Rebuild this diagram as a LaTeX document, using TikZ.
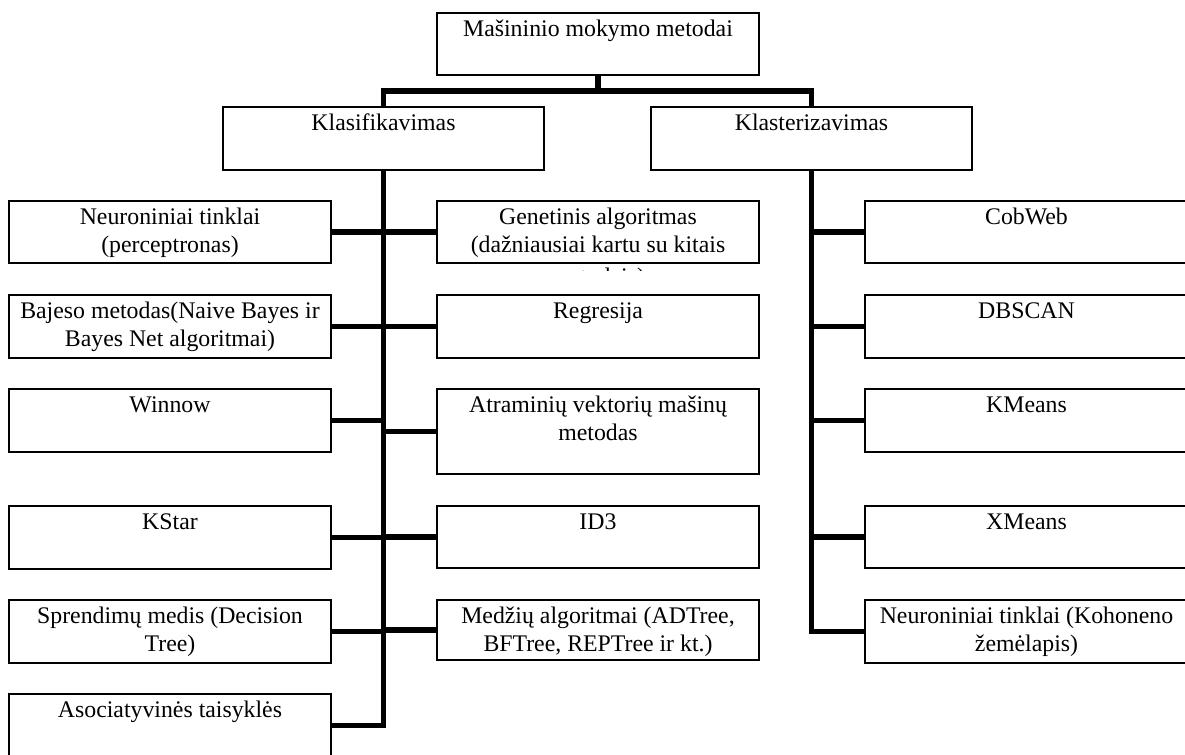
\documentclass[tikz,border=0pt]{standalone}
\usepackage{fontspec}
\setmainfont{Liberation Serif}

% Box text: fixed-size cell, lines centred and hung from the top edge
\newcommand\celltext[3]{\parbox[c][#2][t]{#1}{\centering\rule{0pt}{11.5pt}#3}}

\tikzset{
  box/.style={draw=black, line width=1pt, inner sep=0pt, fill=white,
              font=\fontsize{11.9pt}{14.25pt}\selectfont},
  link/.style={draw=black, line width=2.6pt, line join=miter, line cap=butt},
}

\begin{document}
\begin{tikzpicture}[x=0.5pt, y=-0.5pt]
\useasboundingbox (0,0) rectangle (1185,755);
\clip (0,0) rectangle (1185,755);

% root and the two main groups
\node[box] (T)  at (598,44)    {\celltext{161pt}{31pt}{Mašininio mokymo metodai}};
\node[box] (K1) at (383.5,138.5) {\celltext{160.5pt}{31.5pt}{Klasifikavimas}};
\node[box] (K2) at (811.5,138.5) {\celltext{160.5pt}{31.5pt}{Klasterizavimas}};

% classification methods, left column
\node[box] (L1) at (170,232)   {\celltext{161pt}{31pt}{Neuroniniai tinklai\\(perceptronas)}};
\node[box] (L2) at (170,326.5) {\celltext{161pt}{31.5pt}{Bajeso metodas(Naive Bayes ir\\Bayes Net algoritmai)}};
\node[box] (L3) at (170,420.5) {\celltext{161pt}{31.5pt}{Winnow}};
\node[box] (L4) at (170,537.5) {\celltext{161pt}{31.5pt}{KStar}};
\node[box] (L5) at (170,631.5) {\celltext{161pt}{31.5pt}{Sprendimų medis (Decision\\Tree)}};
\node[box] (L6) at (170,725.5) {\celltext{161pt}{31.5pt}{Asociatyvinės taisyklės}};

% classification methods, middle column
\node[box] (M1) at (598,232)   {\celltext{161pt}{31pt}{Genetinis algoritmas\\(dažniausiai kartu su kitais}};
\node[box] (M2) at (598,326.5) {\celltext{161pt}{31.5pt}{Regresija}};
\node[box] (M3) at (598,431.5) {\celltext{161pt}{42.5pt}{Atraminių vektorių mašinų\\metodas}};
\node[box] (M4) at (598,537)   {\celltext{161pt}{31pt}{ID3}};
\node[box] (M5) at (598,630)   {\celltext{161pt}{30pt}{Medžių algoritmai (ADTree,\\BFTree, REPTree ir kt.)}};

% overflowing last line of the genetic algorithm box, cut off below the frame
\begin{scope}
  \clip (437,263) rectangle (759,270);
  \node[anchor=base, inner sep=0pt, font=\fontsize{11.9pt}{14.25pt}\selectfont]
    (M1more) at (598,284) {metodais)};
\end{scope}

% clustering methods, right column
\node[box] (R1) at (1026.5,232)   {\celltext{161.5pt}{31pt}{CobWeb}};
\node[box] (R2) at (1026.5,326.5) {\celltext{161.5pt}{31.5pt}{DBSCAN}};
\node[box] (R3) at (1026.5,420.5) {\celltext{161.5pt}{31.5pt}{KMeans}};
\node[box] (R4) at (1026.5,537)   {\celltext{161.5pt}{31pt}{XMeans}};
\node[box] (R5) at (1026.5,631.5) {\celltext{161.5pt}{31.5pt}{Neuroniniai tinklai (Kohoneno\\žemėlapis)}};

% root to groups
\coordinate (hub) at (598,91);
\draw[link] (T.south) -- (hub);
\draw[link] (K1.north) |- (hub) -| (K2.north);

% classification trunk and branches
\draw[link] (K1.south) -- (K1.south |- L6.east) -- (L6.east);
\foreach \n in {L1,L2,L3,L4,L5}
  \draw[link] (K1.south |- \n.east) -- (\n.east);
\foreach \n in {M1,M2,M3,M4,M5}
  \draw[link] (K1.south |- \n.west) -- (\n.west);

% clustering trunk and branches
\draw[link] (K2.south) -- (K2.south |- R5.west) -- (R5.west);
\foreach \n in {R1,R2,R3,R4}
  \draw[link] (K2.south |- \n.west) -- (\n.west);
\end{tikzpicture}
\end{document}
